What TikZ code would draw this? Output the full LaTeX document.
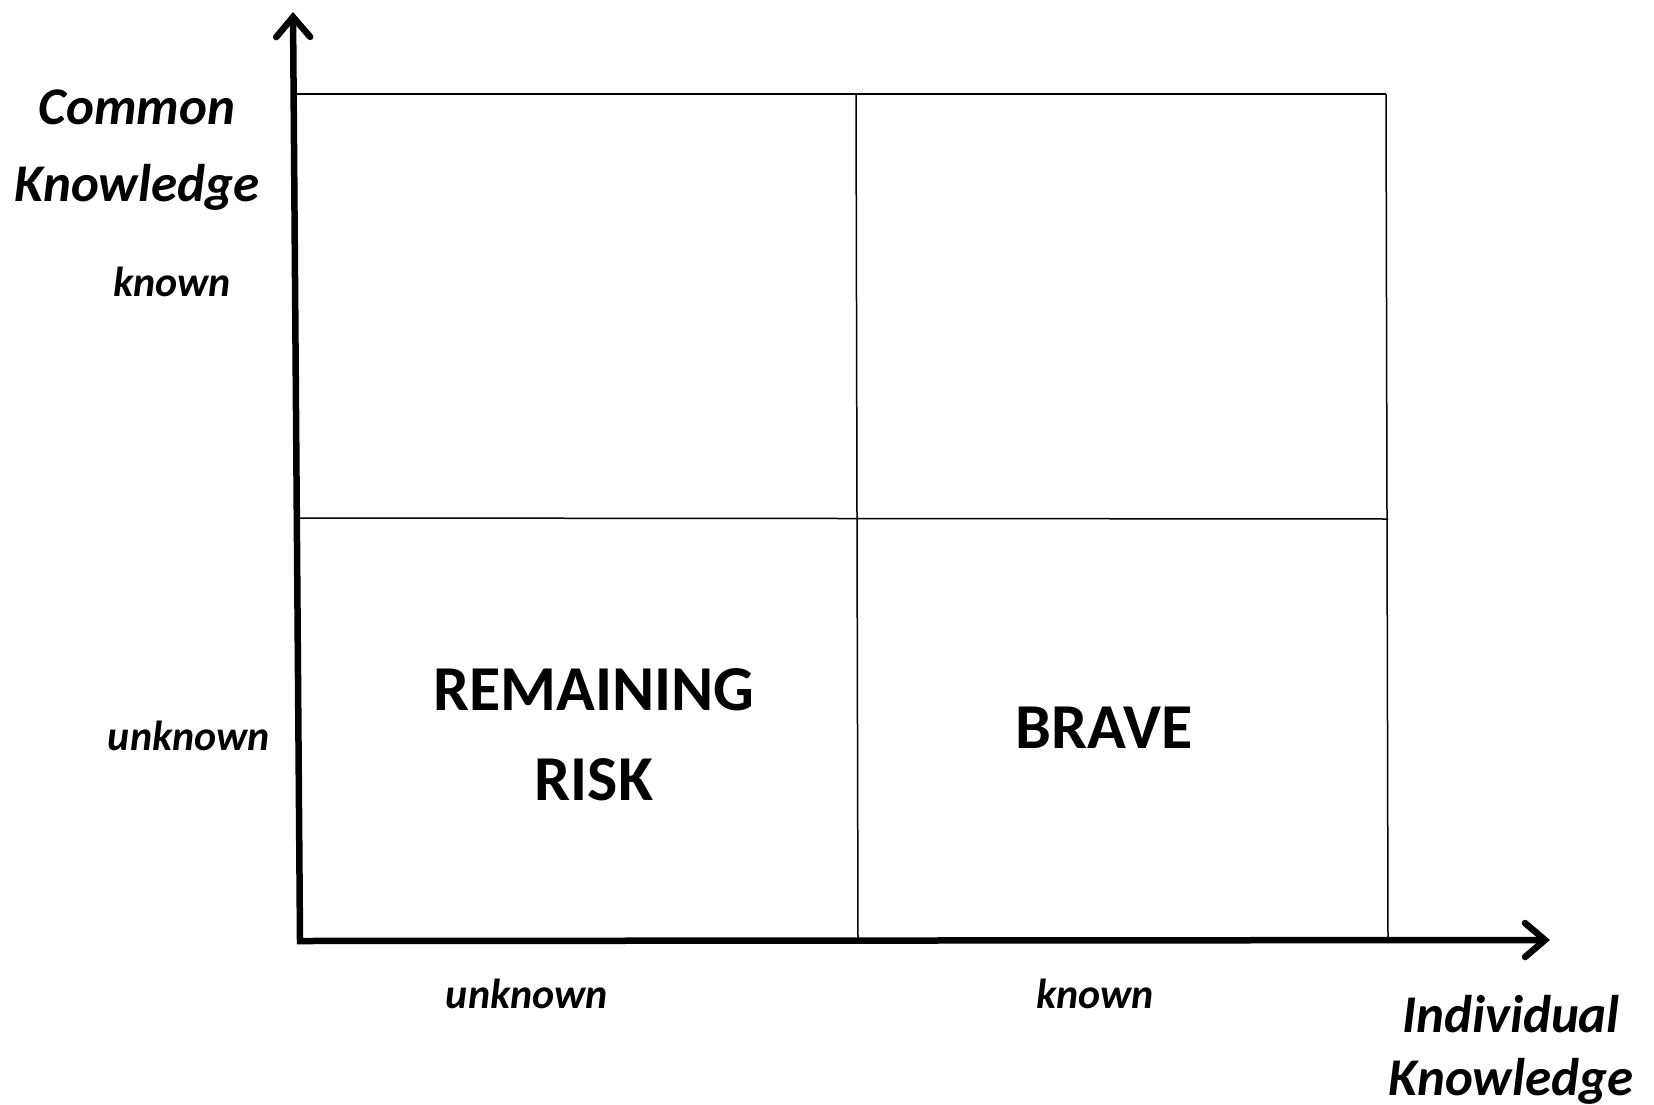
\documentclass[tikz,border=0pt]{standalone}
\usepackage{fontspec}
\setmainfont{Carlito}
\usetikzlibrary{arrows.meta}

\begin{document}
\begin{tikzpicture}[x=1pt,y=-1pt,
	axis/.style={line width=6.5pt, {Straight Barb[length=20pt,width=34pt,line cap=round]}-{Straight Barb[length=20pt,width=34pt,line cap=round]}},
	grid/.style={line width=1.5pt},
	title/.style={font=\fontsize{53}{#1}\selectfont\bfseries\itshape, align=center},
	title/.default=77,
	level/.style={font=\fontsize{42}{46}\selectfont\bfseries\itshape},
	field/.style={font=\fontsize{64}{90}\selectfont\bfseries, align=center}]
	\useasboundingbox (0,0) rectangle (1654,1105);
	\coordinate (O) at (300,941);
	\coordinate (Ytop) at (293,12);
	\coordinate (Xend) at (1550,940);

	% grid of the four fields
	\draw[grid] (297,94)--(1386,94);
	\draw[grid] (297,518)--(1388,519);
	\draw[grid] (856,94)--(858,940);
	\draw[grid] (1386,94)--(1388,940);

	% axes
	\draw[axis] (Ytop)--(O)--(Xend);

	\node[title] (ck) at (137,150) {Common\\Knowledge};
	\node[title=63] (ik) at (1511,1050) {Individual\\Knowledge};
	\node[level] (yk) at (172,282) {known};
	\node[level] (yu) at (189,736) {unknown};
	\node[level] (xu) at (527,994) {unknown};
	\node[level] (xk) at (1095,994) {known};

	\node[field] (risk) at (594,735) {REMAINING\\RISK};
	\node[field] (brave) at (1104,728) {BRAVE};
\end{tikzpicture}
\end{document}
